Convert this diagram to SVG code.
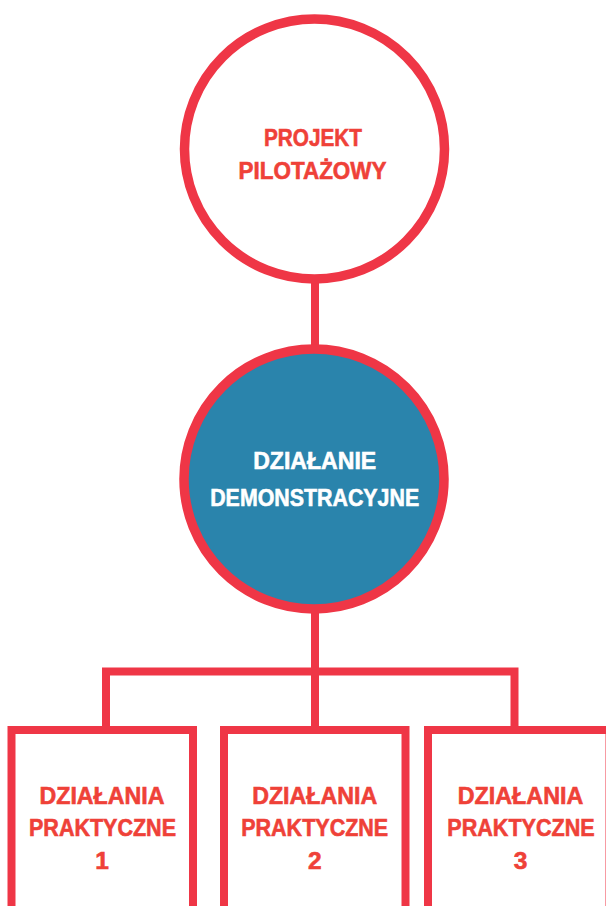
<svg xmlns="http://www.w3.org/2000/svg" width="606" height="906" viewBox="0 0 606 906">
  <style>
    .ring { fill: #ffffff; stroke: #EF3646; stroke-width: 9.5; }
    .ringb { fill: #2A84AC; stroke: #EF3646; stroke-width: 9.5; }
    .box { fill: #ffffff; stroke: #EF3646; stroke-width: 8; }
    .conn { fill: none; stroke: #EF3646; stroke-width: 8; stroke-linejoin: miter; stroke-linecap: butt; }
    .t { font-family: "Liberation Sans", "DejaVu Sans", sans-serif; font-weight: bold; font-size: 24.5px; text-anchor: middle; stroke-width: 0.6; }
    .red { fill: #EF4138; stroke: #EF4138; }
    .white { fill: #ffffff; stroke: #ffffff; }
  </style>
  <rect x="0" y="0" width="606" height="906" fill="#ffffff"/>
  <g id="connectors">
    <line class="conn" x1="315" y1="280" x2="315" y2="348"/>
    <line class="conn" x1="315" y1="610" x2="315" y2="730"/>
    <polyline class="conn" points="106,730 106,671.5 514.5,671.5 514.5,730"/>
  </g>
  <g id="node-projekt">
    <circle class="ring" cx="314.5" cy="149" r="130"/>
    <text class="t red" x="313" y="146" textLength="98" lengthAdjust="spacingAndGlyphs">PROJEKT</text>
    <text class="t red" x="312.5" y="178.5" textLength="148" lengthAdjust="spacingAndGlyphs">PILOTAŻOWY</text>
  </g>
  <g id="node-demonstracyjne">
    <circle class="ringb" cx="314" cy="479" r="130"/>
    <text class="t white" x="314.7" y="468.5" textLength="123" lengthAdjust="spacingAndGlyphs">DZIAŁANIE</text>
    <text class="t white" x="314.7" y="505.5" textLength="209" lengthAdjust="spacingAndGlyphs">DEMONSTRACYJNE</text>
  </g>
  <g id="node-praktyczne-1">
    <rect class="box" x="11.5" y="730" width="181.5" height="200"/>
    <text class="t red" x="102" y="804" textLength="125" lengthAdjust="spacingAndGlyphs">DZIAŁANIA</text>
    <text class="t red" x="102.5" y="836" textLength="147" lengthAdjust="spacingAndGlyphs">PRAKTYCZNE</text>
    <text class="t red" x="102" y="868.5">1</text>
  </g>
  <g id="node-praktyczne-2">
    <rect class="box" x="224" y="730" width="181.5" height="200"/>
    <text class="t red" x="314.7" y="804" textLength="125" lengthAdjust="spacingAndGlyphs">DZIAŁANIA</text>
    <text class="t red" x="314.7" y="836" textLength="147" lengthAdjust="spacingAndGlyphs">PRAKTYCZNE</text>
    <text class="t red" x="314.7" y="868.5">2</text>
  </g>
  <g id="node-praktyczne-3">
    <rect class="box" x="428" y="730" width="181.5" height="200"/>
    <text class="t red" x="520.5" y="804" textLength="125.5" lengthAdjust="spacingAndGlyphs">DZIAŁANIA</text>
    <text class="t red" x="521" y="836" textLength="147.5" lengthAdjust="spacingAndGlyphs">PRAKTYCZNE</text>
    <text class="t red" x="520.5" y="868.5">3</text>
  </g>
</svg>
